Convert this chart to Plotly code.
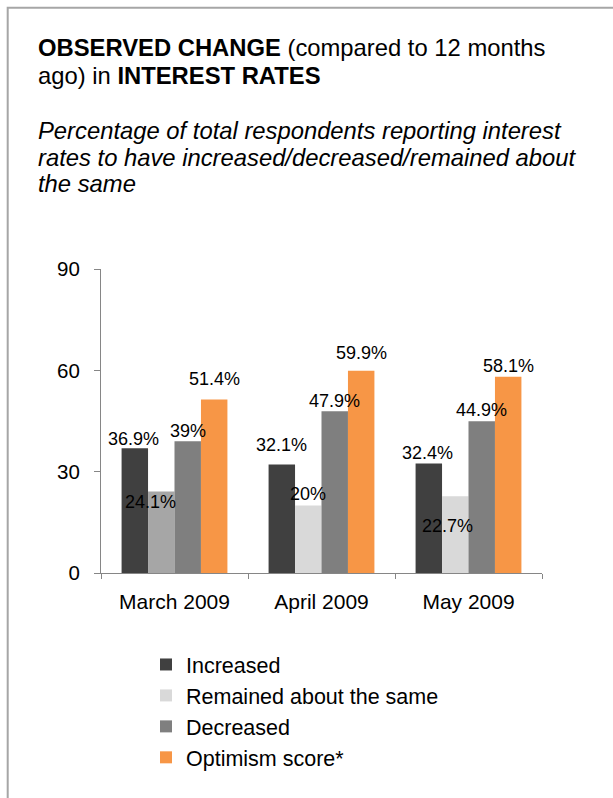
import plotly.graph_objects as go

# ---- data ----
months = ["March 2009", "April 2009", "May 2009"]
series_names = ["Increased", "Remained about the same", "Decreased", "Optimism score*"]
increased = [36.9, 32.1, 32.4]
remained = [24.1, 20.0, 22.7]
decreased = [39.0, 47.9, 44.9]
optimism = [51.4, 59.9, 58.1]
value_labels = [
    ["36.9%", "32.1%", "32.4%"],
    ["24.1%", "20%", "22.7%"],
    ["39%", "47.9%", "44.9%"],
    ["51.4%", "59.9%", "58.1%"],
]
y_ticks = [0, 30, 60, 90]

# ---- styling ----
W, H = 613, 798
M = dict(l=101, r=71, t=269, b=225)
FONT = "Liberation Sans, Arial, sans-serif"
series_colors = [
    ["#404040"] * 3,
    ["#a6a6a6", "#d9d9d9", "#d9d9d9"],
    ["#7f7f7f"] * 3,
    ["#f79646"] * 3,
]
legend_colors = ["#404040", "#d9d9d9", "#7f7f7f", "#f79646"]
BARGAP = 0.28
# pixel nudges (dx, dy) for each value label, relative to its bar's top centre
label_nudges = [
    [(-1, 9), (0, 20), (-1, 11)],
    [(-11, -10), (0, 11), (-8, -30)],
    [(0, 10), (0, 10), (0, 11)],
    [(0, 20), (0, 18), (0, 11)],
]

plot_w = W - M["l"] - M["r"]
plot_h = H - M["t"] - M["b"]


def px_x(x):
    return (x - M["l"]) / plot_w


def px_y(y):
    return (H - M["b"] - y) / plot_h


all_values = [increased, remained, decreased, optimism]

fig = go.Figure()
for i, (name, vals, cols) in enumerate(zip(series_names, all_values, series_colors)):
    # bars (their legend entry is drawn by a key-only trace so the swatch
    # shows the series colour rather than the first bar's colour)
    fig.add_trace(go.Bar(
        name=name, x=months, y=vals,
        marker=dict(color=cols, line=dict(width=0)),
        hoverinfo="skip", showlegend=False, legendgroup=name,
    ))
for i, name in enumerate(series_names):
    fig.add_trace(go.Bar(
        name=name, x=[None], y=[None], xaxis="x2", yaxis="y2",
        marker=dict(color=legend_colors[i], line=dict(width=0)),
        hoverinfo="skip", showlegend=True, legendgroup=name,
    ))

# value labels above / on the bars
n = len(series_names)
bw = (1 - BARGAP) / n
for si in range(n):
    offset = (si - (n - 1) / 2) * bw
    for ci in range(len(months)):
        dx, dy = label_nudges[si][ci]
        fig.add_annotation(
            x=ci + offset, y=all_values[si][ci], xref="x", yref="y",
            text=value_labels[si][ci], showarrow=False,
            xanchor="center", yanchor="middle",
            xshift=dx, yshift=dy,
            font=dict(family=FONT, size=18, color="#000000"),
        )

# title and subtitle lines
title_lines = [
    ("<b>OBSERVED CHANGE</b> (compared to 12 months", 47.5),
    ("ago) in <b>INTEREST RATES</b>", 75),
]
subtitle_lines = [
    ("<i>Percentage of total respondents reporting interest</i>", 130),
    ("<i>rates to have increased/decreased/remained about</i>", 157),
    ("<i>the same</i>", 183.5),
]
for txt, ypx in title_lines + subtitle_lines:
    fig.add_annotation(
        x=px_x(36), y=px_y(ypx), xref="paper", yref="paper",
        text=txt, showarrow=False, xanchor="left", yanchor="middle",
        font=dict(family=FONT, size=23.8, color="#000000"),
    )

# outer frame
fig.add_shape(
    type="rect", xref="paper", yref="paper",
    x0=px_x(7.7), x1=px_x(640), y0=px_y(830), y1=px_y(7.7),
    line=dict(color="#a6a6a6", width=2), fillcolor="rgba(0,0,0,0)", layer="below",
)

fig.update_layout(
    width=W, height=H,
    margin=dict(l=M["l"], r=M["r"], t=M["t"], b=M["b"], pad=0),
    paper_bgcolor="#ffffff", plot_bgcolor="#ffffff",
    barmode="group", bargap=BARGAP, bargroupgap=0,
    font=dict(family=FONT, color="#000000"),
    showlegend=True,
    legend=dict(
        orientation="v", x=px_x(146), y=px_y(644),
        xanchor="left", yanchor="top",
        font=dict(family=FONT, size=21.5, color="#000000"),
        bgcolor="rgba(0,0,0,0)", borderwidth=0,
        traceorder="normal",
    ),
    xaxis=dict(
        type="category", showgrid=False, zeroline=False,
        showline=True, linecolor="#868686", linewidth=1,
        ticks="outside", tickson="boundaries", ticklen=5, tickcolor="#868686",
        tickfont=dict(family=FONT, size=21, color="#000000"),
        ticklabelstandoff=10,
        range=[-0.5, 2.5],
    ),
    yaxis=dict(
        range=[0, 90], tickvals=y_ticks, showgrid=False, zeroline=False,
        showline=True, linecolor="#868686", linewidth=1,
        ticks="outside", ticklen=6, tickcolor="#868686",
        tickfont=dict(family=FONT, size=20.5, color="#000000"),
        ticklabelstandoff=10,
    ),
    xaxis2=dict(domain=[0, 1], anchor="y2", overlaying="x", visible=False),
    yaxis2=dict(domain=[0, 1], anchor="x2", overlaying="y", visible=False),
)

fig.write_html("out.html")
